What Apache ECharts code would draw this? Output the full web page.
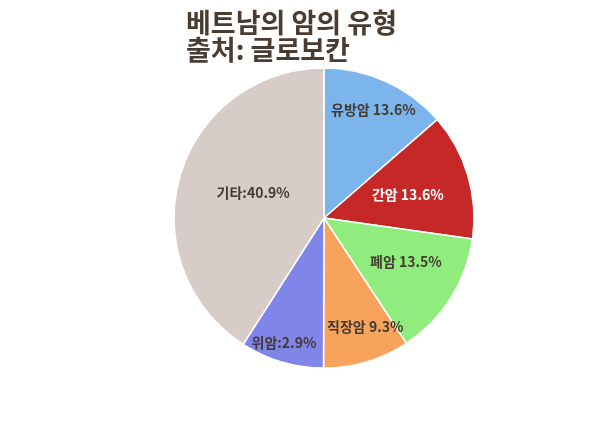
<!DOCTYPE html>
<html><head><meta charset="utf-8">
<script src="https://cdn.jsdelivr.net/npm/echarts@6/dist/echarts.min.js"></script>
<style>html,body{margin:0;padding:0;background:#fff}#c{width:600px;height:431px}</style>
</head><body><div id="c"></div>
<script>
const titleLines = ['베트남의 암의 유형', '출처: 글로보칸'];
const categories = ['유방암 13.6%', '간암 13.6%', '폐암 13.5%', '직장암 9.3%', '위암:2.9%', '기타:40.9%'];
const values = [13.6, 13.6, 13.5, 9.3, 9.0, 40.9];
const colors = ['#7cb5ec', '#c62828', '#90ed7d', '#f7a35c', '#8085e9', '#d8ccc8'];
const labelColors = ['#433a33', '#ffffff', '#433a33', '#433a33', '#433a33', '#433a33'];
const labelOffsets = [[17, -37], [9, -1], [16, 2], [19, 34], [-18, 50], [4, -3]];

const chart = echarts.init(document.getElementById('c'), null, {renderer: 'canvas'});
chart.setOption({
  animation: false,
  title: {
    text: titleLines.join('\n'),
    left: 181, top: 4,
    textStyle: {fontFamily: 'Noto Sans CJK KR', fontWeight: 'bold', fontSize: 27, color: '#4a3c30', lineHeight: 27}
  },
  series: [{
    type: 'pie',
    center: [324, 218],
    radius: [0, 150],
    startAngle: 90,
    clockwise: true,
    data: categories.map((n, i) => ({
      name: n, value: values[i],
      itemStyle: {color: colors[i]},
      label: {color: labelColors[i], offset: labelOffsets[i]}
    })),
    itemStyle: {borderColor: '#ffffff', borderWidth: 1.5},
    label: {
      show: true, position: 'inside', formatter: '{b}',
      fontFamily: 'Noto Sans CJK KR', fontWeight: 'bold', fontSize: 14
    },
    labelLine: {show: false},
    emphasis: {disabled: true}
  }]
});
</script></body></html>
